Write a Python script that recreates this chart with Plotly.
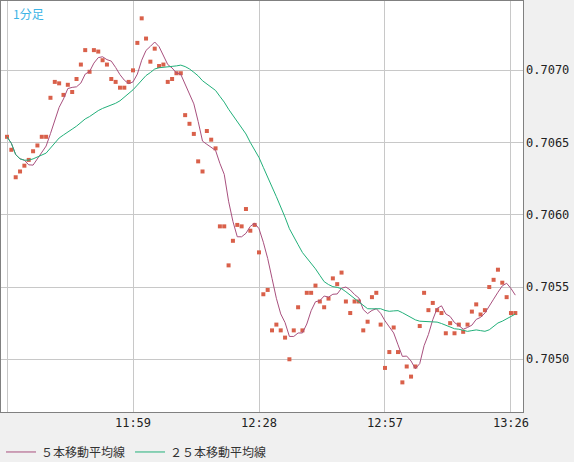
import plotly.graph_objs as go
import pandas as pd

# 1-minute closes from 11:30
prices = [
    0.70654, 0.70645, 0.70626, 0.70630, 0.70634, 0.70638, 0.70644, 0.70648, 0.70654, 0.70654,
    0.70681, 0.70692, 0.70691, 0.70683, 0.70690, 0.70685, 0.70694, 0.70704, 0.70714, 0.70699,
    0.70714, 0.70713, 0.70707, 0.70704, 0.70694, 0.70692, 0.70688, 0.70688, 0.70692, 0.70700,
    0.70719, 0.70736, 0.70722, 0.70706, 0.70715, 0.70703, 0.70704, 0.70692, 0.70694, 0.70698,
    0.70698, 0.70669, 0.70663, 0.70656, 0.70637, 0.70630, 0.70658, 0.70652, 0.70646, 0.70592,
    0.70592, 0.70565, 0.70582, 0.70593, 0.70592, 0.70604, 0.70589, 0.70593, 0.70574, 0.70545,
    0.70548, 0.70520, 0.70524, 0.70520, 0.70515, 0.70500, 0.70520, 0.70536, 0.70520, 0.70546,
    0.70546, 0.70551, 0.70540, 0.70536, 0.70542, 0.70556, 0.70552, 0.70560, 0.70540, 0.70532,
    0.70540, 0.70540, 0.70520, 0.70526, 0.70543, 0.70546, 0.70524, 0.70494, 0.70505, 0.70522,
    0.70505, 0.70484, 0.70495, 0.70488, 0.70495, 0.70523, 0.70546, 0.70534, 0.70539, 0.70534,
    0.70532, 0.70518, 0.70525, 0.70518, 0.70524, 0.70519, 0.70524, 0.70533, 0.70538, 0.70531,
    0.70534, 0.70550, 0.70555, 0.70562, 0.70553, 0.70543, 0.70532, 0.70532,
]
tick_times = ["11:30", "11:59", "12:28", "12:57", "13:26"]
tick_text = ["", "11:59", "12:28", "12:57", "13:26"]
y_ticks = [0.7050, 0.7055, 0.7060, 0.7065, 0.7070]

day = "2024-01-01 "
times = pd.date_range(day + "11:30", periods=len(prices), freq="1min")
s = pd.Series(prices, index=times)
ma5 = s.rolling(5, min_periods=1).mean()
ma25 = s.rolling(25, min_periods=1).mean()

fig = go.Figure()
fig.add_trace(go.Scatter(x=times, y=s, mode="markers", showlegend=False,
                         marker=dict(symbol="square", size=4, color="#d9604a")))
fig.add_trace(go.Scatter(x=times, y=ma5, mode="lines", name="５本移動平均線",
                         line=dict(color="#a8507e", width=1)))
fig.add_trace(go.Scatter(x=times, y=ma25, mode="lines", name="２５本移動平均線",
                         line=dict(color="#22b07a", width=1)))

# price labels on the right as annotations so they can sit in the margin
notes = [dict(text=f"{v:.4f}", x=1, y=v, xref="paper", yref="y", xanchor="left",
              xshift=1, showarrow=False,
              font=dict(family="DejaVu Sans Mono", size=12, color="#222"))
         for v in y_ticks]
notes.append(dict(text="1分足", x=0.02, y=0.995, xref="paper", yref="paper",
                  xanchor="left", yanchor="top", showarrow=False,
                  font=dict(family="Noto Sans CJK JP", size=12, color="#3cb4e6")))

grid = "#c8c8c8"
fig.update_layout(
    width=574, height=462,
    margin=dict(l=1, r=51, t=1, b=50, autoexpand=False),
    paper_bgcolor="#f0f0f0", plot_bgcolor="white",
    font=dict(family="DejaVu Sans Mono", size=12, color="#222"),
    legend=dict(orientation="h", x=0, y=-0.062, yanchor="top", bgcolor="rgba(0,0,0,0)",
                itemwidth=30, font=dict(family="Noto Sans CJK JP", size=12, color="#333")),
    xaxis=dict(range=[pd.Timestamp(day + "11:28:37"), pd.Timestamp(day + "13:28:46")],
               tickvals=[pd.Timestamp(day + t) for t in tick_times], ticktext=tick_text,
               showgrid=True, gridcolor=grid, ticks="", zeroline=False,
               showline=True, linecolor="#808080", mirror=True),
    yaxis=dict(range=[0.704635, 0.707480], side="right", tickvals=y_ticks,
               showticklabels=False, showgrid=True, gridcolor=grid, ticks="", zeroline=False,
               showline=True, linecolor="#808080", mirror=True),
    annotations=notes,
)

fig.write_html("out.html", config={"displayModeBar": False},
               post_script="document.body.style.margin='0';")
